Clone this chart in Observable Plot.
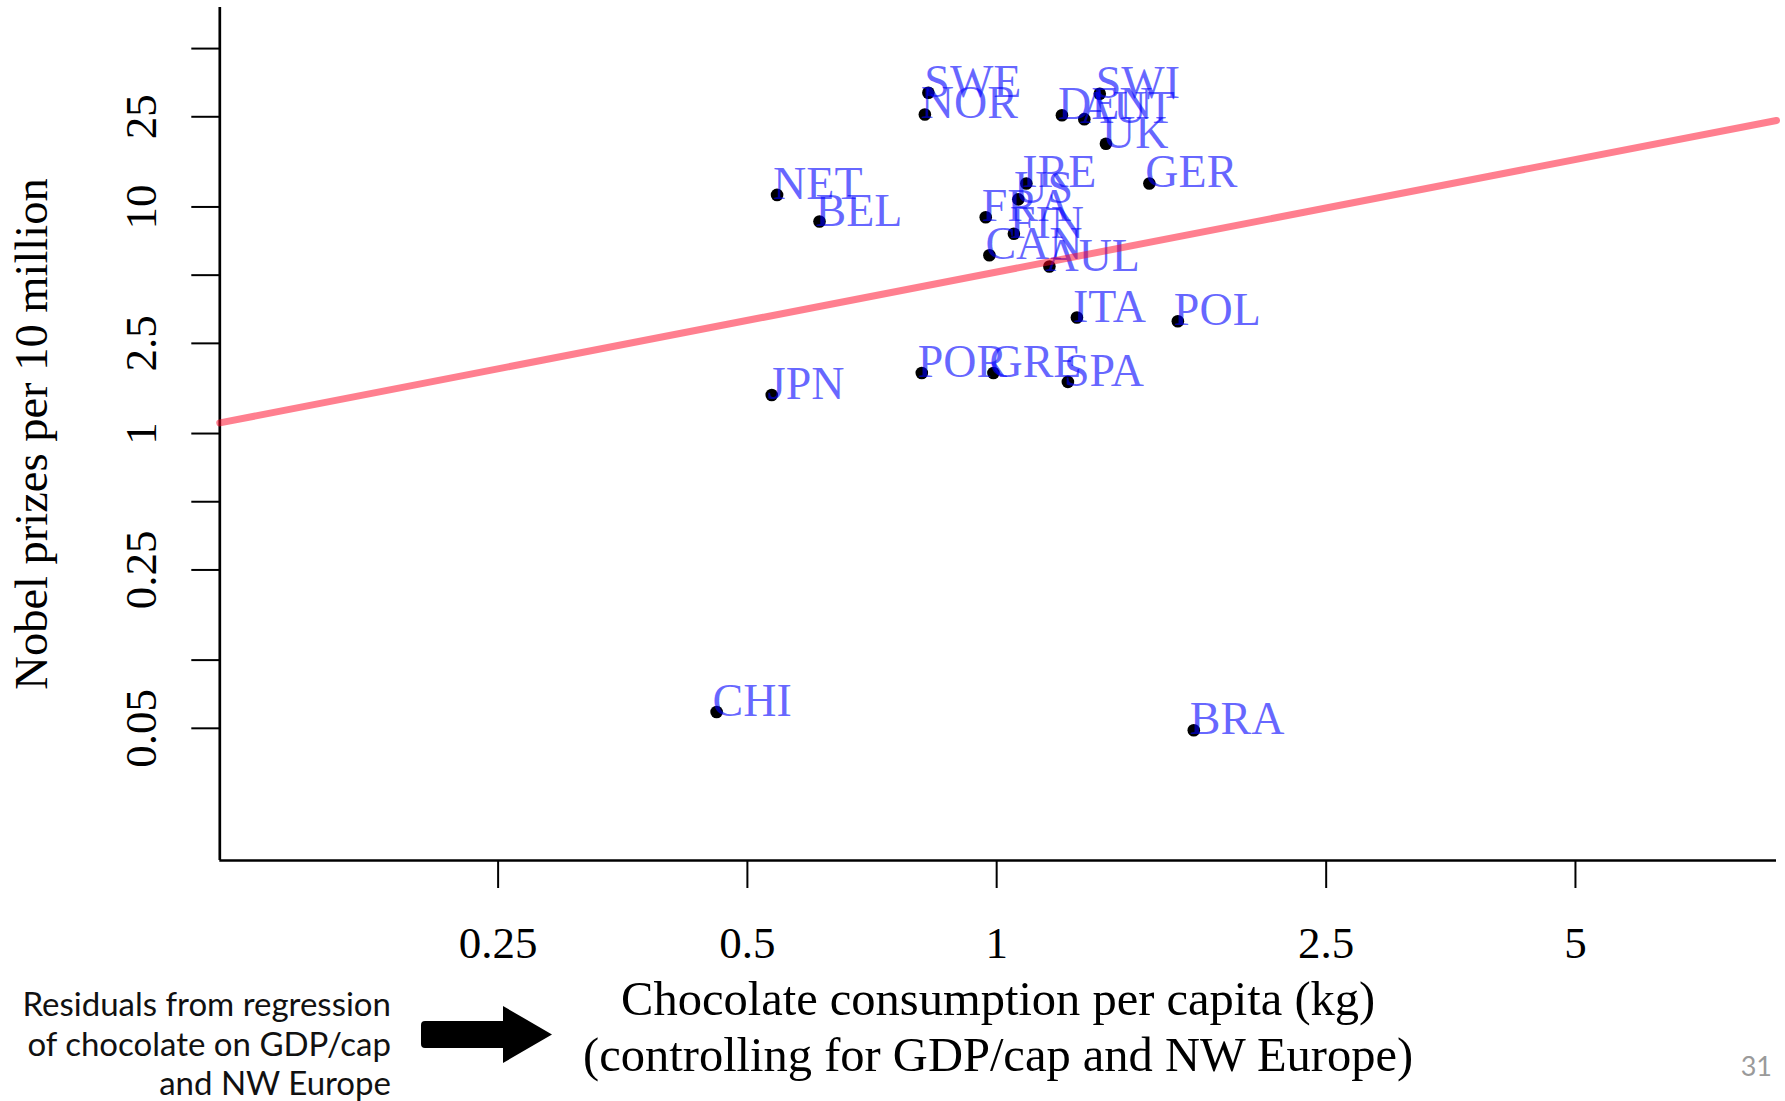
<!DOCTYPE html>
<html>
<head>
<meta charset="utf-8">
<script src="https://cdn.jsdelivr.net/npm/d3@7"></script>
<script src="https://cdn.jsdelivr.net/npm/@observablehq/plot@0.6"></script>
<style>
  body { margin: 0; background: #fff; }
  #wrap { position: relative; width: 1785px; height: 1101px; overflow: hidden; background: #fff; }
  #note { position: absolute; left: 0; width: 391px; top: 984px; font-family: Lato, "Open Sans", sans-serif;
          font-size: 33px; line-height: 39.5px; text-align: right; color: #111; }
  #arrow { position: absolute; left: 421px; top: 1006px; }
  #page { position: absolute; right: 13px; top: 1052px; font-family: Lato, sans-serif; font-size: 27px;
          line-height: 27px; color: #9a9a9a; }
</style>
</head>
<body>
<div id="wrap">
  <div id="note">Residuals from regression<br>of chocolate on GDP/cap<br>and NW Europe</div>
  <svg id="arrow" width="132" height="57" viewBox="0 0 132 57">
    <path d="M4,15 L82,15 L82,0 L131,28.5 L82,57 L82,42 L4,42 Q0,42 0,38 L0,19 Q0,15 4,15 Z" fill="#000"/>
  </svg>
  <div id="page">31</div>
</div>
<script>
// ---- data ----
const countries = ["SWE","NOR","DEN","AUT","SWI","UK","IRE","GER","US","FRA","FIN","CAN","AUL","ITA","POL","POR","GRE","SPA","NET","BEL","JPN","CHI","BRA"];
const chocolate = [0.827,0.819,1.199,1.276,1.332,1.355,1.086,1.529,1.062,0.970,1.049,0.980,1.158,1.250,1.655,0.812,0.991,1.219,0.543,0.611,0.535,0.459,1.730];
const nobel     = [31.9,25.6,25.4,24.4,31.6,19.0,12.7,12.7,10.8,9.01,7.61,6.12,5.46,3.25,3.13,1.85,1.85,1.69,11.3,8.62,1.48,0.059,0.049];
const xTicks = [0.25, 0.5, 1, 2.5, 5];
const yTicks = [0.05, 0.1, 0.25, 0.5, 1, 2.5, 5, 10, 25, 50];
const yTickLabels = [0.05, 0.25, 1, 2.5, 10, 25];
const xDomain = [0.1153, 8.745];
const yDomain = [0.01305, 75.9];
const fitLog10Intercept = 0.713;
const fitSlope = 0.71;
const xTitle = "Chocolate consumption per capita (kg)\n(controlling for GDP/cap and NW Europe)";
const yTitle = "Nobel prizes per 10 million";

// ---- derived tables ----
const data = countries.map((c, i) => ({country: c, chocolate: chocolate[i], nobel: nobel[i]}));
const fitLine = xDomain.map(x => ({x, y: Math.pow(10, fitLog10Intercept + fitSlope * Math.log10(x))}));

const W = 1785, H = 1101;
const chart = Plot.plot({
  width: W, height: H,
  marginLeft: 219.3, marginTop: 7, marginRight: 9, marginBottom: H - 860,
  x: {type: "log", domain: xDomain, label: null},
  y: {type: "log", domain: yDomain, label: null},
  style: {fontFamily: "'Liberation Serif', serif", fontSize: "46px", background: "transparent", color: "black", overflow: "visible"},
  marks: [
    Plot.axisX(xTicks, {tickSize: 28, strokeWidth: 2, tickFormat: () => "", label: null}),
    Plot.axisY(yTicks, {tickSize: 28, strokeWidth: 2, tickFormat: () => "", label: null}),
    Plot.text(xTicks, {x: d => d, frameAnchor: "bottom", dy: 83, lineAnchor: "middle", text: d => String(d), fontSize: 45}),
    Plot.text(yTickLabels, {y: d => d, frameAnchor: "left", dx: -78, rotate: -90, lineAnchor: "middle", textAnchor: "middle", text: d => String(d), fontSize: 45}),
    Plot.ruleX([xDomain[0]], {stroke: "black", strokeWidth: 2.7}),
    Plot.ruleY([yDomain[0]], {stroke: "black", strokeWidth: 2.7}),
    Plot.dot(data, {x: "chocolate", y: "nobel", r: 6.3, fill: "black", stroke: null}),
    Plot.text(data, {x: "chocolate", y: "nobel", text: "country", textAnchor: "start", lineAnchor: "middle", dx: -4, dy: -10.7, fill: "blue", fillOpacity: 0.6, fontSize: 46}),
    Plot.line(fitLine, {x: "x", y: "y", stroke: "#ff0020", strokeOpacity: 0.5, strokeWidth: 7}),
    Plot.text([yTitle], {frameAnchor: "left", dx: -187.3, rotate: -90, lineAnchor: "middle", textAnchor: "middle", fontSize: 46.5}),
    Plot.text([xTitle], {frameAnchor: "bottom", dy: 165, lineAnchor: "middle", textAnchor: "middle", lineHeight: 1.15, fontSize: 48.5})
  ]
});
chart.style.position = "absolute";
chart.style.left = "0px";
chart.style.top = "0px";
document.getElementById("wrap").prepend(chart);
</script>
</body>
</html>
